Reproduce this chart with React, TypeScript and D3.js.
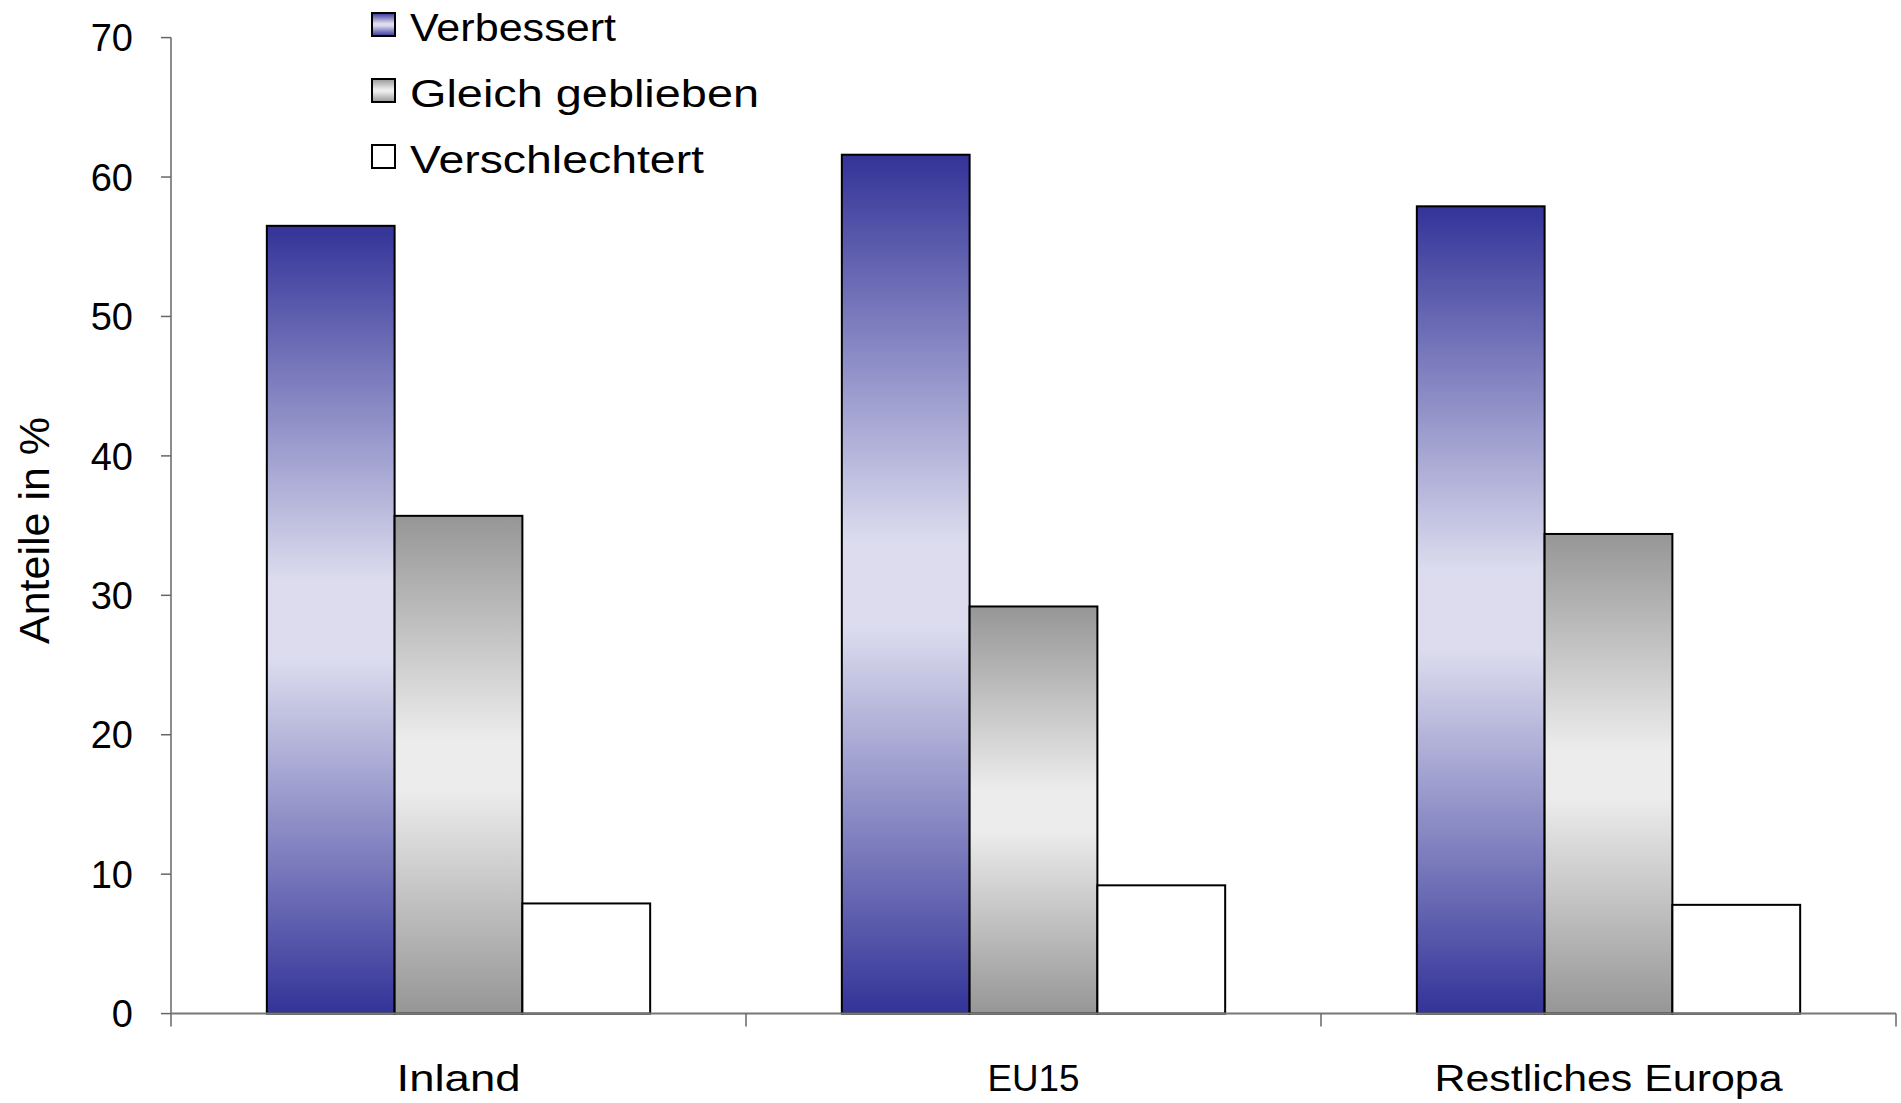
import React from "react";
import * as d3 from "d3";

const categories = ["Inland", "EU15", "Restliches Europa"];
const seriesNames = ["Verbessert", "Gleich geblieben", "Verschlechtert"];
const verbessert = [56.5, 61.6, 57.9];
const gleich = [35.7, 29.2, 34.4];
const verschlechtert = [7.9, 9.2, 7.8];
const yTicks = [0, 10, 20, 30, 40, 50, 60, 70];

const seriesValues = [verbessert, gleich, verschlechtert];
const fills = ["url(#gradBlue)", "url(#gradGray)", "#ffffff"];
const legendWidths = [206, 349, 294];
const catWidths = [124, 92, 348];

export default function App() {
  const W = 1901;
  const H = 1103;
  const left = 171;
  const right = 1896;
  const top = 37.6;
  const bottom = 1013.6;

  const x0 = d3.scaleBand<string>().domain(categories).range([left, right]).padding(0);
  const x1 = d3
    .scaleBand<string>()
    .domain(seriesNames)
    .range([0, x0.bandwidth()])
    .paddingInner(0)
    .paddingOuter(0.75);
  const y = d3.scaleLinear().domain([0, 70]).range([bottom, top]);

  const font = "'Liberation Sans', Arial, sans-serif";

  return (
    <svg
      width={W}
      height={H}
      style={{ position: "absolute", left: 0, top: 0, background: "#fff" }}
    >
      <defs>
        <linearGradient id="gradBlue" x1="0" y1="0" x2="0" y2="1">
          <stop offset="0" stopColor="#333399" />
          <stop offset="0.45" stopColor="#dcdcee" />
          <stop offset="0.55" stopColor="#dcdcee" />
          <stop offset="1" stopColor="#333399" />
        </linearGradient>
        <linearGradient id="gradGray" x1="0" y1="0" x2="0" y2="1">
          <stop offset="0" stopColor="#969696" />
          <stop offset="0.45" stopColor="#ececec" />
          <stop offset="0.55" stopColor="#ececec" />
          <stop offset="1" stopColor="#969696" />
        </linearGradient>
      </defs>
      <rect x={0} y={0} width={W} height={H} fill="#fff" />

      {/* bars */}
      {categories.map((c, ci) =>
        seriesNames.map((s, si) => {
          const v = seriesValues[si][ci];
          const bx = (x0(c) as number) + (x1(s) as number);
          return (
            <rect
              key={c + s}
              x={bx}
              y={y(v)}
              width={x1.bandwidth()}
              height={y(0) - y(v)}
              fill={fills[si]}
              stroke="#000"
              strokeWidth={2}
            />
          );
        })
      )}

      {/* y axis */}
      <line x1={left} x2={left} y1={top} y2={bottom + 13} stroke="#666" strokeWidth={1.5} />
      {yTicks.map((t) => (
        <g key={t}>
          <line x1={left - 10} x2={left} y1={y(t)} y2={y(t)} stroke="#666" strokeWidth={1.5} />
          <text
            x={133}
            y={y(t)}
            dy="0.36em"
            textAnchor="end"
            fontFamily={font}
            fontSize={38}
            fill="#000"
          >
            {t}
          </text>
        </g>
      ))}

      {/* x axis */}
      <line x1={left} x2={right} y1={bottom} y2={bottom} stroke="#777" strokeWidth={2} />
      {categories.map((c) => (
        <line
          key={"t" + c}
          x1={(x0(c) as number) + x0.bandwidth()}
          x2={(x0(c) as number) + x0.bandwidth()}
          y1={bottom}
          y2={bottom + 13}
          stroke="#666"
          strokeWidth={1.5}
        />
      ))}
      {categories.map((c, i) => (
        <text
          key={"l" + c}
          x={(x0(c) as number) + x0.bandwidth() / 2 - catWidths[i] / 2}
          y={1091}
          fontFamily={font}
          fontSize={37}
          textLength={catWidths[i]}
          lengthAdjust="spacingAndGlyphs"
          fill="#000"
        >
          {c}
        </text>
      ))}

      {/* y title */}
      <text
        transform={`translate(49, 530.5) rotate(-90)`}
        textAnchor="middle"
        fontFamily={font}
        fontSize={43}
        fill="#000"
      >
        Anteile in %
      </text>

      {/* legend */}
      {seriesNames.map((s, i) => (
        <g key={"leg" + s} transform={`translate(0, ${i * 66})`}>
          <rect x={372} y={13} width={23} height={23} fill={fills[i]} stroke="#000" strokeWidth={2} />
          <text
            x={410}
            y={41}
            fontFamily={font}
            fontSize={38}
            textLength={legendWidths[i]}
            lengthAdjust="spacingAndGlyphs"
            fill="#000"
          >
            {s}
          </text>
        </g>
      ))}
    </svg>
  );
}
